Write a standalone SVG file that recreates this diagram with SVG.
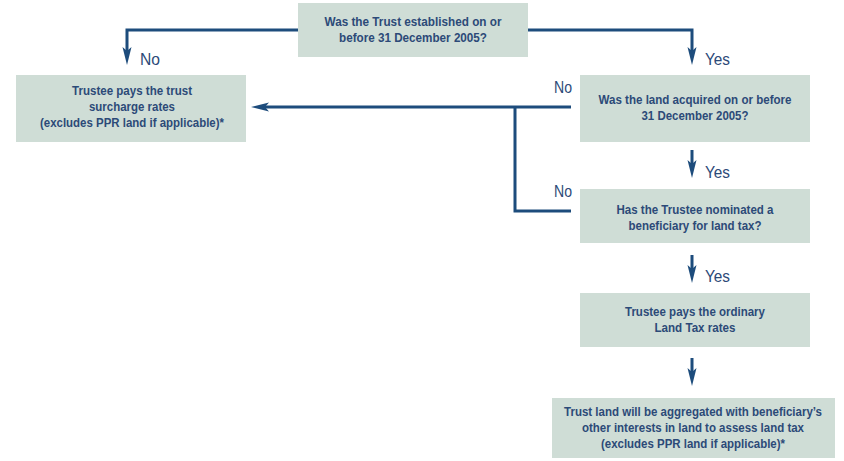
<svg xmlns="http://www.w3.org/2000/svg" width="844" height="461" viewBox="0 0 844 461">
<style>
.box{fill:#cfddd6;}
.bt{font-family:"Liberation Sans",Arial,sans-serif;font-weight:bold;font-size:13px;fill:#2c4a78;text-anchor:middle;}
.sm{font-size:12px;}
.lbl{font-family:"Liberation Sans",Arial,sans-serif;font-size:17px;fill:#2c4a78;}
.con{fill:none;stroke:#1d4c7c;stroke-width:3;}
</style>
<defs>
<marker id="ah" markerUnits="userSpaceOnUse" markerWidth="20" markerHeight="12" viewBox="0 0 20 12" refX="6" refY="6" orient="auto">
<path d="M0,1.5 L18,6 L0,10.5 L4,6 Z" fill="#1d4c7c"/>
</marker>
</defs>
<rect width="844" height="461" fill="#ffffff"/>
<g id="connectors">
<polyline class="con" points="298,30 127,30 127,53" marker-end="url(#ah)"/>
<polyline class="con" points="528,30 692,30 692,53" marker-end="url(#ah)"/>
<line class="con" x1="571" y1="107" x2="263" y2="107" marker-end="url(#ah)"/>
<polyline class="con" points="515,107 515,211 571,211"/>
<line class="con" x1="692" y1="150" x2="692" y2="166" marker-end="url(#ah)"/>
<line class="con" x1="692" y1="255" x2="692" y2="271" marker-end="url(#ah)"/>
<line class="con" x1="692" y1="358" x2="692" y2="374" marker-end="url(#ah)"/>
<text class="lbl" x="140" y="65" textLength="20" lengthAdjust="spacingAndGlyphs">No</text>
<text class="lbl" x="705" y="65" textLength="25" lengthAdjust="spacingAndGlyphs">Yes</text>
<text class="lbl" x="554" y="93" textLength="18" lengthAdjust="spacingAndGlyphs">No</text>
<text class="lbl" x="705" y="178" textLength="25" lengthAdjust="spacingAndGlyphs">Yes</text>
<text class="lbl" x="554" y="197" textLength="18" lengthAdjust="spacingAndGlyphs">No</text>
<text class="lbl" x="705" y="282" textLength="25" lengthAdjust="spacingAndGlyphs">Yes</text>
</g>
<g id="q1">
<rect class="box" x="298" y="3" width="230" height="54"/>
<text class="bt" x="413" y="26" textLength="177" lengthAdjust="spacingAndGlyphs">Was the Trust established on or</text>
<text class="bt" x="413" y="42" textLength="148" lengthAdjust="spacingAndGlyphs">before 31 December 2005?</text>
</g>
<g id="surcharge">
<rect class="box" x="16" y="75" width="230" height="67"/>
<text class="bt" x="132" y="95" textLength="120" lengthAdjust="spacingAndGlyphs">Trustee pays the trust</text>
<text class="bt" x="132" y="111" textLength="86" lengthAdjust="spacingAndGlyphs">surcharge rates</text>
<text class="bt" x="132" y="127" textLength="184" lengthAdjust="spacingAndGlyphs">(excludes PPR land if applicable)*</text>
</g>
<g id="q2">
<rect class="box" x="580" y="75" width="230" height="67"/>
<text class="bt" x="695" y="104" textLength="193" lengthAdjust="spacingAndGlyphs">Was the land acquired on or before</text>
<text class="bt" x="695" y="120" textLength="107" lengthAdjust="spacingAndGlyphs">31 December 2005?</text>
</g>
<g id="q3">
<rect class="box" x="580" y="189" width="230" height="54"/>
<text class="bt" x="695" y="214" textLength="157" lengthAdjust="spacingAndGlyphs">Has the Trustee nominated a</text>
<text class="bt" x="695" y="230" textLength="133" lengthAdjust="spacingAndGlyphs">beneficiary for land tax?</text>
</g>
<g id="ordinary">
<rect class="box" x="580" y="293" width="230" height="54"/>
<text class="bt" x="695" y="316" textLength="140" lengthAdjust="spacingAndGlyphs">Trustee pays the ordinary</text>
<text class="bt" x="695" y="332" textLength="81" lengthAdjust="spacingAndGlyphs">Land Tax rates</text>
</g>
<g id="aggregated">
<rect class="box" x="552" y="398" width="283" height="60"/>
<text class="bt sm" x="693" y="416" textLength="258" lengthAdjust="spacingAndGlyphs">Trust land will be aggregated with beneficiary’s</text>
<text class="bt sm" x="693" y="432" textLength="222" lengthAdjust="spacingAndGlyphs">other interests in land to assess land tax</text>
<text class="bt sm" x="693" y="448" textLength="184" lengthAdjust="spacingAndGlyphs">(excludes PPR land if applicable)*</text>
</g>
</svg>
